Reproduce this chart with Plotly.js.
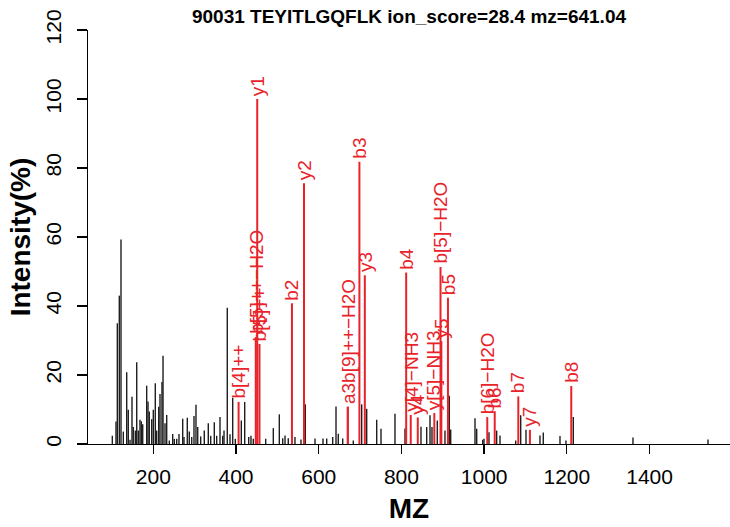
<!DOCTYPE html>
<html>
<head>
<meta charset="utf-8">
<script src="https://cdn.plot.ly/plotly-3.0.1.min.js"></script>
<style>html,body{margin:0;padding:0;background:#fff;}#chart{width:730px;height:527px;}</style>
</head>
<body>
<div id="chart"></div>
<script>
// ---- data ----
const titleText = "90031 TEYITLGQFLK ion_score=28.4 mz=641.04";

// unmatched (black) peaks: m/z and relative intensity (%)
const blackMz = [100.9,109.8,113.0,117.8,121.9,127.5,135.7,139.5,143.7,148.5,151.6,156.5,159.9,163.7,167.8,171.0,174.4,184.0,187.2,190.3,196.1,200.0,204.8,208.2,213.1,216.2,221.0,223.5,228.3,232.4,238.7,246.9,250.8,256.6,262.1,271.1,274.2,282.2,287.0,292.9,298.4,303.2,307.4,314.6,323.3,333.0,338.8,347.5,353.3,361.3,367.8,371.0,378.9,385.5,392.0,398.3,412.8,421.0,430.7,436.2,441.8,471.8,490.2,504.7,512.9,518.5,526.4,542.6,557.1,567.5,591.0,610.3,619.3,633.8,641.8,647.3,658.0,683.6,703.9,716.0,740.2,750.6,784.4,808.6,847.3,861.1,869.1,873.9,886.7,905.3,915.7,919.1,977.9,982.0,996.5,999.6,1011.7,1030.3,1038.3,1076.3,1088.4,1101.2,1135.0,1143.0,1183.4,1197.9,1215.6,1359.9,1541.3];
const blackInt = [2.4,6.5,35.0,43.0,59.3,3.6,20.8,9.9,1.2,13.7,4.9,3.9,23.7,3.9,7.0,6.6,5.7,16.9,12.3,9.4,7.2,9.9,17.6,3.9,10.8,14.5,18.0,25.6,6.0,8.4,1.0,2.9,1.5,1.5,2.9,7.3,2.0,7.6,3.6,2.0,8.1,11.4,4.9,2.2,3.9,6.0,2.4,6.3,2.4,7.8,2.4,3.9,39.5,2.8,13.4,1.5,6.8,12.2,2.0,2.4,1.5,1.5,4.6,8.6,1.7,2.5,1.7,2.0,1.3,11.5,1.6,1.6,1.6,2.0,10.9,3.0,1.6,1.0,11.5,10.2,7.0,4.4,8.8,4.5,5.0,4.9,8.3,4.9,6.8,3.9,14.0,4.2,7.5,4.4,1.2,1.5,3.4,3.9,2.5,1.0,8.3,4.1,2.5,3.3,2.3,1.0,7.8,1.9,1.3];

// matched fragment ions (red)
const ionLabels = ["b[4]++","b[5]++\u2212H2O","y1","b[5]++","b2","y2","a3","b[9]++\u2212H2O","b3","y3","b4","y[4]\u2212NH3","y4","y[5]\u2212NH3","b[5]\u2212H2O","y5","b5","b[6]\u2212H2O","b6","b7","y7","b8"];
const ionMz = [406.23,447.75,451.32,456.75,535.30,564.40,670.37,670.37,698.37,711.47,811.45,822.50,839.53,879.52,894.49,896.55,912.50,1007.57,1025.58,1082.60,1110.68,1210.66];
const ionInt = [12.2,31.0,100.0,29.0,40.8,75.6,10.8,10.8,81.8,48.9,49.7,8.4,7.7,9.0,51.3,29.8,42.4,7.8,9.5,13.8,4.1,16.8];

const xTicks = [200,400,600,800,1000,1200,1400];
const yTicks = [0,20,40,60,80,100,120];

// ---- build traces ----
function sticks(xs, ys){
  const x=[], y=[];
  xs.forEach((m,i)=>{ x.push(m,m,null); y.push(0,ys[i],null); });
  return {x,y};
}
const bs = sticks(blackMz, blackInt);
const rs = sticks(ionMz, ionInt);
const RED = '#e8232a';

const traces = [
  {type:'scatter', mode:'lines', x:bs.x, y:bs.y, line:{color:'#1e1e1e', width:1.4}, hoverinfo:'skip', showlegend:false, connectgaps:false},
  {type:'scatter', mode:'lines', x:rs.x, y:rs.y, line:{color:RED, width:2}, hoverinfo:'skip', showlegend:false, connectgaps:false}
];

// merge labels of coincident peaks (same m/z and intensity)
const groups = [];
ionLabels.forEach((lab,i)=>{
  const g = groups.find(q=>Math.abs(q.x-ionMz[i])<0.05 && Math.abs(q.y-ionInt[i])<0.05);
  if(g){ g.text += lab; } else { groups.push({x:ionMz[i], y:ionInt[i], text:lab}); }
});
const annotations = groups.map(g=>({
  x:g.x, y:g.y, xref:'x', yref:'y', text:g.text, showarrow:false,
  textangle:-90, xanchor:'center', yanchor:'bottom', yshift:1,
  font:{family:'Liberation Sans, Arial, sans-serif', size:19, color:RED}
}));

const layout = {
  width:730, height:527,
  margin:{l:88, r:0, t:30, b:83, pad:0},
  paper_bgcolor:'#fff', plot_bgcolor:'#fff',
  font:{family:'Liberation Sans, Arial, sans-serif', color:'#000'},
  title:{text:titleText, font:{size:19, weight:'bold', color:'#000'}, x:0.5, xref:'paper', xanchor:'center', y:1-16/527, yref:'container', yanchor:'middle'},
  xaxis:{
    range:[42.1,1594.5], tickmode:'array', tickvals:xTicks, ticktext:xTicks.map(String),
    ticks:'outside', ticklen:9, tickwidth:1.3, tickcolor:'#000',
    showline:true, linecolor:'#000', linewidth:1.3, showgrid:false, zeroline:false,
    tickfont:{size:21, color:'#000'}, ticklabelstandoff:4,
    title:{text:'MZ', font:{size:28, weight:'bold', color:'#000'}, standoff:12}
  },
  yaxis:{
    range:[0,120], tickmode:'array', tickvals:yTicks, ticktext:yTicks.map(String),
    ticks:'outside', ticklen:10, tickwidth:1.3, tickcolor:'#000', tickangle:-90,
    showline:true, linecolor:'#000', linewidth:1.3, showgrid:false, zeroline:false,
    tickfont:{size:21, color:'#000'}, ticklabelstandoff:7,
    title:{text:'Intensity(%)', font:{size:28, weight:'bold', color:'#000'}, standoff:3}
  },
  annotations:annotations,
  showlegend:false
};

Plotly.newPlot('chart', traces, layout, {staticPlot:true, displayModeBar:false});
</script>
</body>
</html>
